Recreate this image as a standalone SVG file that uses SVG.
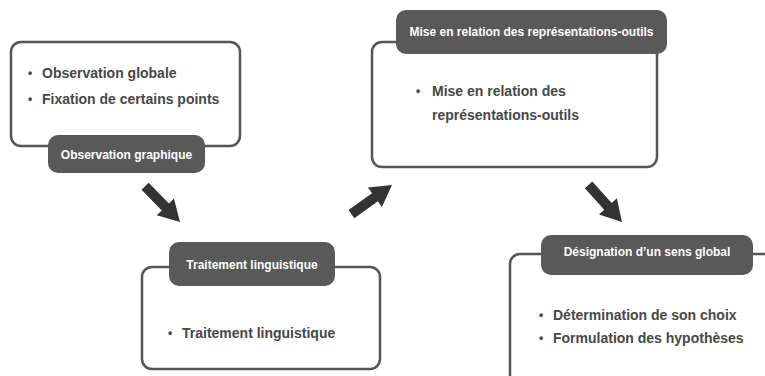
<svg xmlns="http://www.w3.org/2000/svg" width="765" height="376" viewBox="0 0 765 376">
  <style>
    .box { fill: #ffffff; stroke: #555555; stroke-width: 2.5; }
    .tag { fill: #595959; }
    .tagtxt { font-family: "Liberation Sans", Arial, sans-serif; font-weight: bold; font-size: 12px; fill: #ffffff; text-anchor: middle; }
    .txt { font-family: "Liberation Sans", Arial, sans-serif; font-weight: bold; font-size: 14px; fill: #474747; }
    .bul { font-family: "Liberation Sans", Arial, sans-serif; font-weight: bold; font-size: 12px; fill: #474747; }
    .arrow { fill: #333333; }
  </style>
  <defs>
    <path id="arr" d="M -50 -5 L -21 -5 L -21 -12 L 0 0 L -21 12 L -21 5 L -50 5 Z"/>
  </defs>
  <rect width="765" height="376" fill="#ffffff"/>

  <g id="node-observation">
    <rect class="box" x="11" y="42" width="229" height="104" rx="10"/>
    <text class="bul" x="28" y="77">•</text>
    <text class="txt" x="42" y="77.5">Observation globale</text>
    <text class="bul" x="28" y="103">•</text>
    <text class="txt" x="42" y="103.5">Fixation de certains points</text>
    <rect class="tag" x="48" y="135" width="157" height="38" rx="10"/>
    <text class="tagtxt" x="126.5" y="159">Observation graphique</text>
  </g>

  <g id="node-traitement">
    <rect class="box" x="142" y="267" width="238" height="102" rx="10"/>
    <rect class="tag" x="169" y="242" width="166" height="44" rx="10"/>
    <text class="tagtxt" x="252" y="269">Traitement linguistique</text>
    <text class="bul" x="168" y="337">•</text>
    <text class="txt" x="182" y="337.5">Traitement linguistique</text>
  </g>

  <g id="node-mise-en-relation">
    <rect class="box" x="372" y="42" width="285" height="125" rx="10"/>
    <rect class="tag" x="396" y="10" width="271" height="44" rx="10"/>
    <text class="tagtxt" x="531.5" y="35.5">Mise en relation des représentations-outils</text>
    <text class="bul" x="416" y="95">•</text>
    <text class="txt" x="432" y="95.5">Mise en relation des</text>
    <text class="txt" x="432" y="120">représentations-outils</text>
  </g>

  <g id="node-designation">
    <rect class="box" x="510" y="254" width="275" height="140" rx="10"/>
    <rect class="tag" x="541" y="235" width="212" height="40" rx="10"/>
    <text class="tagtxt" x="647" y="256">Désignation d’un sens global</text>
    <text class="bul" x="539" y="319">•</text>
    <text class="txt" x="553" y="319.5">Détermination de son choix</text>
    <text class="bul" x="539" y="342">•</text>
    <text class="txt" x="553" y="342.5">Formulation des hypothèses</text>
  </g>

  <g id="connectors">
    <use href="#arr" class="arrow" transform="translate(180 222) rotate(45.8)"/>
    <use href="#arr" class="arrow" transform="translate(392 185) rotate(-35.7)"/>
    <use href="#arr" class="arrow" transform="translate(622 222) rotate(48)"/>
  </g>
</svg>
